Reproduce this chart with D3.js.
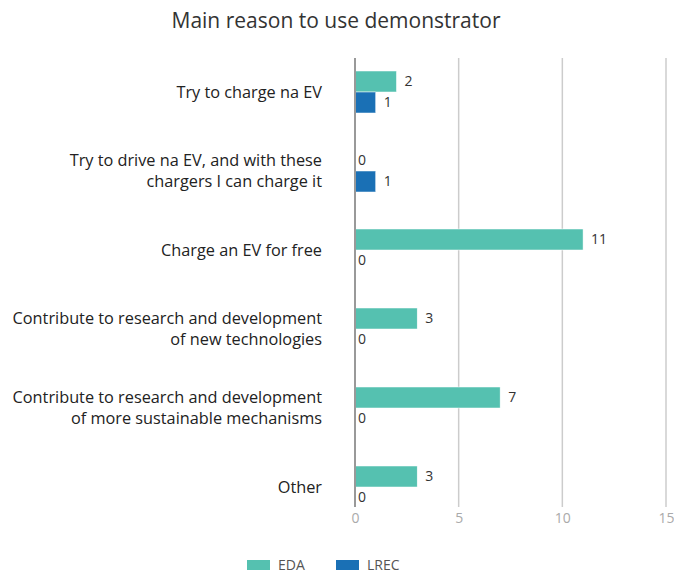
<!DOCTYPE html>
<html><head><meta charset="utf-8">
<script src="https://cdn.jsdelivr.net/npm/d3@7"></script>
<style>body{margin:0;background:#fff;font-family:"Open Sans","Noto Sans",sans-serif;}</style>
</head><body>
<svg id="c" width="674" height="573"></svg>
<script>
const categories = [
  ["Try to charge na EV"],
  ["Try to drive na EV, and with these","chargers I can charge it"],
  ["Charge an EV for free"],
  ["Contribute to research and development","of new technologies"],
  ["Contribute to research and development","of more sustainable mechanisms"],
  ["Other"]
];
const seriesNames = ["EDA","LREC"];
const edaValues = [2,0,11,3,7,3];
const lrecValues = [1,1,0,0,0,0];
const xTicks = [0,5,10,15];
const colors = ["#55c1b0","#1a70b5"];

const svg = d3.select("#c");
const keys = categories.map((c,i)=>i);
const x = d3.scaleLinear().domain([0,15]).range([355,666]);
const y = d3.scalePoint().domain(keys).range([92,487]);
const barH = 21;
const gridTop = 58, gridBottom = 507;

svg.append("text").attr("x",336).attr("y",28).attr("text-anchor","middle")
  .attr("font-size",21).attr("fill","#333").text("Main reason to use demonstrator");

svg.append("g").selectAll("line").data(xTicks.filter(t=>t>0)).join("line")
  .attr("x1",d=>x(d)).attr("x2",d=>x(d)).attr("y1",gridTop).attr("y2",gridBottom)
  .attr("stroke","#cccccc").attr("stroke-width",1.5);

const xAxis = d3.axisBottom(x).tickValues(xTicks).tickSize(0).tickPadding(0);
const ax = svg.append("g").attr("transform",`translate(0,${gridBottom+4})`).call(xAxis);
ax.select(".domain").remove();
ax.selectAll("text").attr("font-size",14).attr("fill","#aaaaaa").attr("font-family","Open Sans, Noto Sans, sans-serif").attr("dy","0.85em");

const series = [edaValues, lrecValues];
series.forEach((vals,si)=>{
  const g = svg.append("g");
  g.selectAll("rect").data(vals).join("rect")
    .attr("x",x(0)).attr("y",(d,i)=>y(i) - barH + si*barH)
    .attr("width",d=>x(d)-x(0)).attr("height",barH)
    .attr("fill",colors[si]).attr("stroke",d=>d>0?"#ffffff":"none").attr("stroke-width",0.5);
  g.selectAll("text").data(vals).join("text")
    .attr("x",d=>x(d)+ (d>0?8:3)).attr("y",(d,i)=>y(i) - barH/2 + si*barH)
    .attr("dy","0.35em").attr("font-size",14).attr("fill","#333").text(d=>d);
});

svg.append("line").attr("x1",x(0)).attr("x2",x(0)).attr("y1",gridTop).attr("y2",gridBottom)
  .attr("stroke","#999999").attr("stroke-width",2);

const lab = svg.append("g");
categories.forEach((lines,i)=>{
  const t = lab.append("text").attr("text-anchor","end").attr("font-size",16.3).attr("fill","#222");
  const n = lines.length, lh = 21;
  lines.forEach((ln,j)=>{
    t.append("tspan").attr("x",322).attr("y",y(i) + (j-(n-1)/2)*lh).attr("dy","0.35em").text(ln);
  });
});

const leg = svg.append("g");
const legX = [247,336];
seriesNames.forEach((n,i)=>{
  leg.append("rect").attr("x",legX[i]).attr("y",560).attr("width",23).attr("height",10).attr("fill",colors[i]);
  leg.append("text").attr("x",legX[i]+31).attr("y",565).attr("dy","0.35em").attr("font-size",14).attr("fill","#555").text(n);
});
</script>
</body></html>
